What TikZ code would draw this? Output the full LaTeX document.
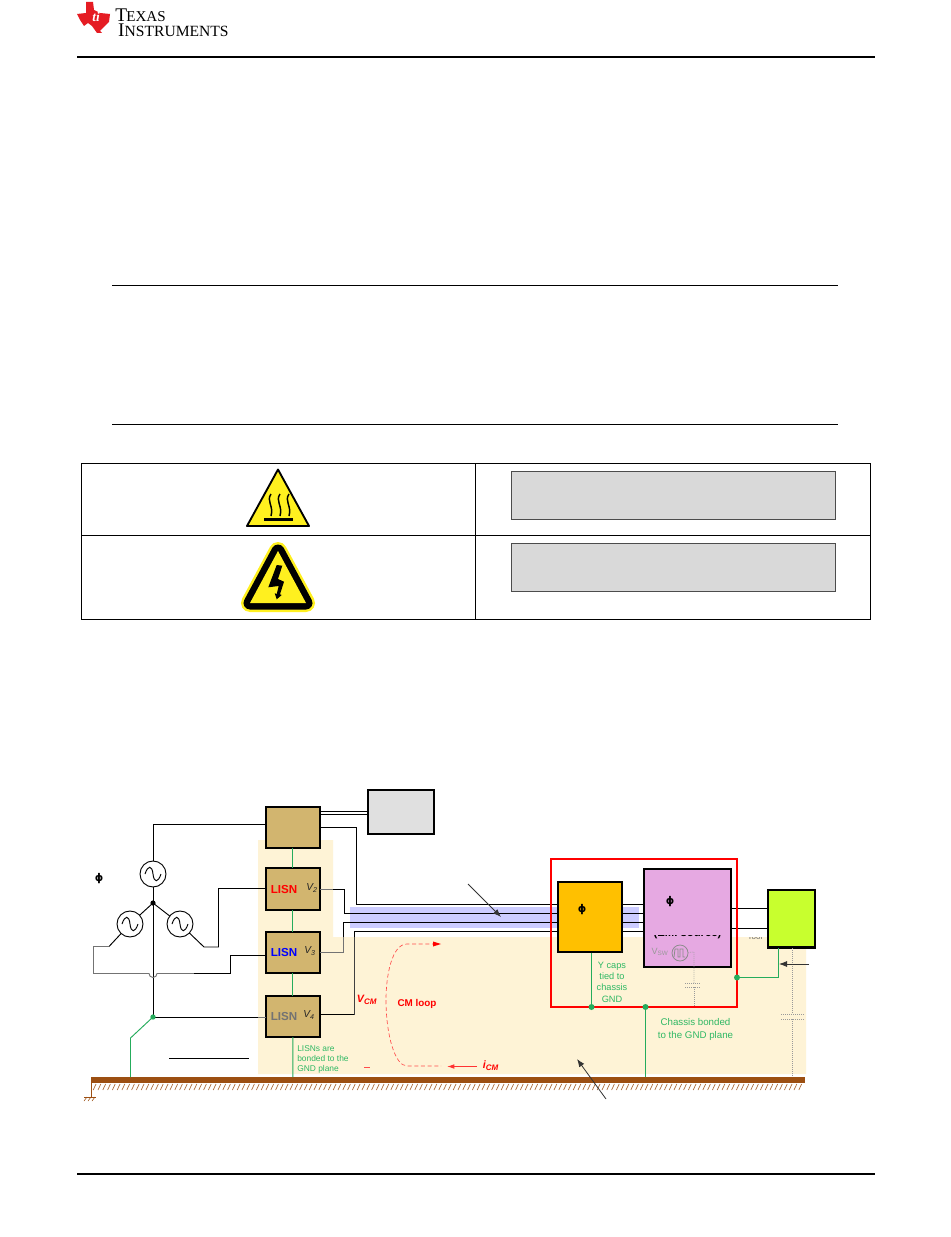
\documentclass[tikz,border=0pt]{standalone}
\usepackage{amsmath}
\usepackage{fontspec}
\setmainfont{Liberation Sans}
\newfontfamily\logofont{Liberation Serif}
\newfontfamily\symf{DejaVu Sans}
\usetikzlibrary{arrows.meta,calc}
\definecolor{tan1}{HTML}{D2B56F}
\definecolor{cream}{HTML}{FEF3D6}
\definecolor{band}{HTML}{CCCCFF}
\definecolor{gnd}{HTML}{9C4F12}
\definecolor{grn}{HTML}{25AC5C}
\definecolor{txtg}{HTML}{2FB864}
\definecolor{amber}{HTML}{FFC000}
\definecolor{pinkb}{HTML}{E6A9E2}
\definecolor{lime}{HTML}{C8FF2E}
\definecolor{tired}{HTML}{E51C23}
\definecolor{warn}{HTML}{FFF01F}
\tikzset{
  x=0.75pt,y=-0.75pt,
  block/.style={draw=black,line width=1.5pt,fill=tan1,minimum width=40.2pt,minimum height=31.3pt,inner sep=0pt,outer sep=0pt,anchor=north west},
  wire/.style={draw=black,line width=0.7pt},
  fwire/.style={draw=black!55,line width=0.7pt},
  gwire/.style={draw=grn,line width=0.7pt},
  src/.style={circle,draw=black,line width=0.7pt,fill=white,minimum size=19.5pt,inner sep=0pt,outer sep=0pt},
  dot/.style={circle,fill=grn,minimum size=4.5pt,inner sep=0pt},
  ltxt/.style={font=\fontsize{8.7}{9}\selectfont\bfseries,inner sep=0pt},
  gtxt/.style={font=\fontsize{6.9}{8.5}\selectfont,text=txtg,align=center,inner sep=0pt},
  vtxt/.style={font=\fontsize{7.6}{8}\selectfont\itshape,inner sep=0pt,text=black!85},
  rtxt/.style={inner sep=0pt,text=red,font=\fontsize{8}{8}\selectfont\bfseries\itshape},
  sine/.style={draw=black,line width=0.7pt},
  rdash/.style={draw=red!70!white,line width=0.5pt,dash pattern=on 3pt off 2pt},
  phisym/.style={font=\symf\bfseries\fontsize{8}{8}\selectfont,inner sep=0pt},
  panel/.style={draw=black!70,line width=0.5pt,fill=black!15,anchor=north west,inner sep=0pt,outer sep=0pt},
  dotl/.style={draw=black!40,line width=0.5pt,densely dotted},
  pointer/.style={-{Latex[length=6pt,width=4.5pt]},black!80,line width=0.6pt}
}
\newcommand{\sinewave}[1]{\draw[sine] ($(#1)+(-8,0)$) .. controls ($(#1)+(-5,-9)$) and ($(#1)+(-1,-9)$) .. ($(#1)$) .. controls ($(#1)+(1,9)$) and ($(#1)+(5,9)$) .. ($(#1)+(8,0)$);}
\begin{document}
\begin{tikzpicture}
\useasboundingbox (0,0) rectangle (950,1237);
\fill[white] (0,0) rectangle (950,1237);

% --- header
\fill[tired,line join=round] (86,2) -- (93,2) -- (94,10) -- (100,13) -- (110,14) -- (109,22) -- (103,28) -- (100,31) -- (102,33) -- (97,33) -- (92,26) -- (88,23) -- (84,26) -- (80,20) -- (77,14) -- (86,13) -- cycle;
\node[inner sep=0pt,text=white,font=\logofont\bfseries\itshape\fontsize{10}{10}\selectfont] (ti) at (96,17) {ti};
\node[inner sep=0pt,anchor=west,align=left,font=\logofont\fontsize{14.5}{11.25}\selectfont] (lg1) at (115,22.4) {T\kern-0.5pt{\fontsize{11.3}{11.3}\selectfont EXAS}\\\hspace*{2.2pt}I{\fontsize{11.7}{11.7}\selectfont NSTRUMENTS}};
\draw[line width=1.5pt] (77,57.5) -- (875,57.5);
\draw[line width=1.5pt] (77,1174) -- (875,1174);
\draw[line width=0.7pt] (112,285.5) -- (838,285.5);
\draw[line width=0.7pt] (112,424.5) -- (838,424.5);

% --- table
\draw[line width=0.75pt] (81.5,463.5) rectangle (870.5,619.5);
\draw[line width=0.75pt] (81.5,535.5) -- (870.5,535.5);
\draw[line width=0.75pt] (475.5,463.5) -- (475.5,619.5);
\node[panel,minimum width=243pt,minimum height=35.6pt] (p1) at (511.5,471.5) {};
\node[panel,minimum width=243pt,minimum height=35.6pt] (p2) at (511.5,543.5) {};

% heat icon
\fill[warn,draw=black,line width=1.4pt,line join=round] (278,469.5) -- (309,526) -- (247,526) -- cycle;
\fill[black] (264,518) rectangle (293,521);
\foreach \xx in {270,279,288}{
  \draw[line width=1.1pt] (\xx+1,494) .. controls (\xx-4,501) and (\xx+4,506) .. (\xx+1,516);
}
% shock icon
\draw[warn,line width=13.5pt,line join=round,fill=warn] (278,551) -- (306,603) -- (250,603) -- cycle;
\draw[black,line width=9.75pt,line join=round,fill=black] (278,551) -- (306,603) -- (250,603) -- cycle;
\fill[warn] (278,551) -- (306,603) -- (250,603) -- cycle;
\fill[black] (276.7,565) -- (282.3,565.7) -- (278,579) -- (284,581.7) -- (280,594.3) -- (281.7,595) -- (276.7,599.3) -- (274.7,593.3) -- (276.7,594) -- (278.7,586) -- (268.3,587.3) -- cycle;

% --- cream
\fill[cream] (258,840) -- (333,840) -- (333,937) -- (806,937) -- (806,1074) -- (258,1074) -- cycle;
\fill[band] (350,907) rectangle (639,928);

% --- ground
\fill[gnd] (91,1077) rectangle (804.5,1083);
\foreach \hx in {96,100.8,...,804}{
  \draw[gnd!85,line width=0.5pt] (\hx,1084) -- (\hx-2.8,1090);
}
\draw[gnd,line width=0.7pt] (91.5,1083) -- (91.5,1097);
\draw[gnd,line width=0.5pt] (84,1097) -- (96,1097);
\foreach \hx in {87,91,95}{
  \draw[gnd,line width=0.4pt] (\hx,1097) -- (\hx-3,1101);
}

% --- nodes
\node[block,minimum height=30.7pt] (top) at (266,806.8) {};
\node[panel,draw=black,line width=1.5pt,fill=black!12,minimum width=49.5pt,minimum height=33pt] (scopebox) at (368,790) {};
\node[block] (l2) at (266,868.3) {};
\node[block] (l3) at (266,931.5) {};
\node[block] (l4) at (266,995.5) {};
\node[block,fill=amber,minimum width=48.5pt,minimum height=52.8pt] (filt) at (557.8,881.8) {};
\node[block,fill=pinkb,minimum width=65.5pt,minimum height=73.8pt] (dut) at (643.8,868.8) {};
\node[block,fill=lime,line width=1.9pt,minimum width=35.5pt,minimum height=43.4pt] (load) at (767.8,889.8) {};

\node[ltxt,text=red] (t2) at (284,889) {LISN};
\node[ltxt,text=blue] (t3) at (284,952) {LISN};
\node[ltxt,text=black!55] (t4) at (284,1016) {LISN};
\node[vtxt] (v2) at (312,888) {V\textsubscript{2}};
\node[vtxt] (v3) at (310,951) {V\textsubscript{3}};
\node[vtxt] (v4) at (309,1015) {V\textsubscript{4}};

% sources
\node[src] (sa) at (153,874) {};
\node[src] (sb) at (130,924) {};
\node[src] (sc) at (180,924) {};
\sinewave{sa}\sinewave{sb}\sinewave{sc}
\coordinate (star) at (153,903);
\fill (star) circle (2.6);
\draw[wire] (sa) -- (star);
\draw[wire] (sb) -- (star);
\draw[wire] (sc) -- (star);
\node[phisym] (ph0) at (99,879) {ϕ};

% wiring
\coordinate (w1) at (0,824.5);
\draw[wire] (top.west |- w1) -| (sa);
\coordinate (g1) at (153,1017);
\draw[wire] (star) -- (g1);
\coordinate (w4) at (0,1017);
\draw[wire] (g1) -- (258,1017);
\draw[fwire] (258,1017) -- (l4.west |- w4);
\coordinate (wl2) at (0,888.5);
\coordinate (elbow) at (109,946.5);
\draw[wire] (sc) -- (204,947) -- (218.5,947) -- (218.5,888.5) -- (l2.west |- wl2);
\coordinate (wl3) at (0,955.5);
\draw[wire] (sb) -- (elbow);
\draw[fwire] (elbow) -- (93.5,946.5) -- (93.5,973.5) -- (149,973.5) arc (180:0:4) -- (194,973.5);
\draw[wire] (194,973.5) -- (230.5,973.5) -- (230.5,955.5) -- (l3.west |- wl3);

\coordinate (ws1) at (0,811.5);
\coordinate (ws2) at (0,814);
\draw[wire,line width=0.6pt] (top.east |- ws1) -- (scopebox.west |- ws1);
\draw[wire,line width=0.6pt] (top.east |- ws2) -- (scopebox.west |- ws2);
% cables
\coordinate (c1) at (0,827.5);
\coordinate (c2) at (0,889.5);
\coordinate (c3) at (0,952.5);
\coordinate (c4) at (0,1014.5);
\coordinate (a1) at (0,904.5);
\coordinate (a2) at (0,913.5);
\coordinate (a3) at (0,922.5);
\coordinate (a4) at (0,931.5);
\draw[wire] (top.east |- c1) -- (356.5,827.5) -- (356.5,904.5) -- (filt.west |- a1);
\draw[fwire] (l2.east |- c2) -- (333,889.5);
\draw[wire] (333,889.5) -- (344.5,889.5) -- (344.5,913.5) -- (filt.west |- a2);
\draw[fwire,line width=1pt] (l3.east |- c3) -- (343.5,952.5) -- (343.5,937);
\draw[wire] (343.5,937) -- (343.5,922.5) -- (filt.west |- a3);
\draw[wire] (l4.east |- c4) -- (354.5,1014.5);
\draw[fwire,draw=black!75] (354.5,1014.5) -- (354.5,937);
\draw[wire] (354.5,937) -- (354.5,931.5) -- (filt.west |- a4);
\draw[wire] (filt.east |- a1) -- (dut.west |- a1);
\draw[wire] (filt.east |- a2) -- (dut.west |- a2);
\draw[wire] (filt.east |- a3) -- (dut.west |- a3);
\draw[wire] (filt.east |- a4) -- (dut.west |- a4);
\coordinate (b1) at (0,908.5);
\coordinate (b2) at (0,928.5);
\draw[wire] (dut.east |- b1) -- (load.west |- b1);
\draw[wire] (dut.east |- b2) -- (load.west |- b2);

% --- red frame
\draw[draw=red,line width=1.4pt] (551,859) rectangle (737,1007);

% green ties
\draw[gwire] (top.south) -- (l2.north);
\draw[gwire] (l2.south) -- (l3.north);
\draw[gwire] (l3.south) -- (l4.north);
\draw[gwire] (l4.south) -- (292.9,1077);
\draw[gwire] (g1) -- (130.5,1038) -- (130.5,1077);
\node[dot,minimum size=4pt] (gd) at (g1) {};
\draw[gwire] (591.5,952.5) -- (591.5,1007);
\draw[gwire] (645.5,1007) -- (645.5,1077);
\draw[gwire] (737,977.5) -- (778.5,977.5) -- (778.5,948);
\node[dot] (d1) at (591.5,1007) {};
\node[dot] (d2) at (645.5,1007) {};
\node[dot] (d3) at (737,977.5) {};

\draw[line width=0.7pt] (169,1058.5) -- (249,1058.5);

% block labels
\node[phisym] (ph1) at (582,910) {ϕ};
\node[phisym] (ph2) at (670,902) {ϕ};
\begin{scope}
\clip (645,935) rectangle (730,945);
\node[inner sep=0pt,font=\fontsize{8.5}{9}\selectfont\bfseries] (emi) at (687.5,934) {(EMI source)};
\end{scope}
\begin{scope}
\clip (740,937.5) rectangle (766,945);
\node[inner sep=0pt,font=\fontsize{6}{7}\selectfont,text=black!60] (frag) at (755,937) {Tool};
\end{scope}

% VSW
\node[inner sep=0pt,font=\fontsize{6.8}{7}\selectfont,text=black!40] (vsw) at (660,952) {V\textsubscript{SW}};
\node[circle,draw=black!45,line width=0.6pt,minimum size=12pt,inner sep=0pt] (pc) at (680,953) {};
\draw[black!45,line width=0.6pt] (674,957) -- (675,949) -- (678,949) -- (678,957) -- (680,957) -- (680,949) -- (683,949) -- (683,957) -- (685,957);
\draw[dotl] (pc) -- (694,952) -- (694,983);
\draw[dotl] (694,987) -- (694,1006);
\draw[dotl] (685,983) -- (701,983);
\draw[dotl] (685,987) -- (701,987);
\draw[dotl] (792,948) -- (792,1014);
\draw[dotl] (792,1019) -- (792,1077);
\draw[dotl] (781,1014) -- (804,1014);
\draw[dotl] (781,1019) -- (804,1019);

% arrows
\coordinate (aa1) at (468,884); \coordinate (aa2) at (501,917);
\draw[pointer] (aa1) -- (aa2);
\coordinate (ab1) at (606,1099); \coordinate (ab2) at (577,1059);
\draw[pointer] (ab1) -- (ab2);
\coordinate (ac1) at (809,964); \coordinate (ac2) at (779,964);
\draw[pointer] (ac1) -- (ac2);

% CM loop
\draw[rdash] (436,944) -- (407,944) .. controls (392,944) and (386,975) .. (386,1000) .. controls (386,1035) and (395,1066) .. (407,1066) -- (441,1066);
\fill[red] (441,944) -- (433,941.5) -- (433,946.5) -- cycle;
\coordinate (ic1) at (477,1066.5); \coordinate (ic2) at (447,1066.5);
\draw[-{Latex[length=5.5pt,width=3.5pt]},red!80,line width=0.7pt] (ic1) -- (ic2);
\draw[red!70,line width=0.6pt] (364,1067.5) -- (370,1067.5);
\node[rtxt] (icm) at (491,1066) {i\textsubscript{CM}};
\node[rtxt] (vcm) at (367,1000) {V\textsubscript{CM}};
\node[rtxt,font=\fontsize{7.4}{8}\selectfont\bfseries] (cml) at (417,1004) {CM loop};

% green text
\node[gtxt] (ycaps) at (612,982) {Y caps\\tied to\\chassis\\GND};
\node[gtxt,font=\fontsize{7.3}{9.4}\selectfont] (chas) at (695.5,1029.5) {Chassis bonded\\to the GND plane};
\node[gtxt,align=left,font=\fontsize{6.3}{7.5}\selectfont,anchor=west] (lb) at (297,1059) {LISNs are\\bonded to the\\GND plane};
\end{tikzpicture}
\end{document}
